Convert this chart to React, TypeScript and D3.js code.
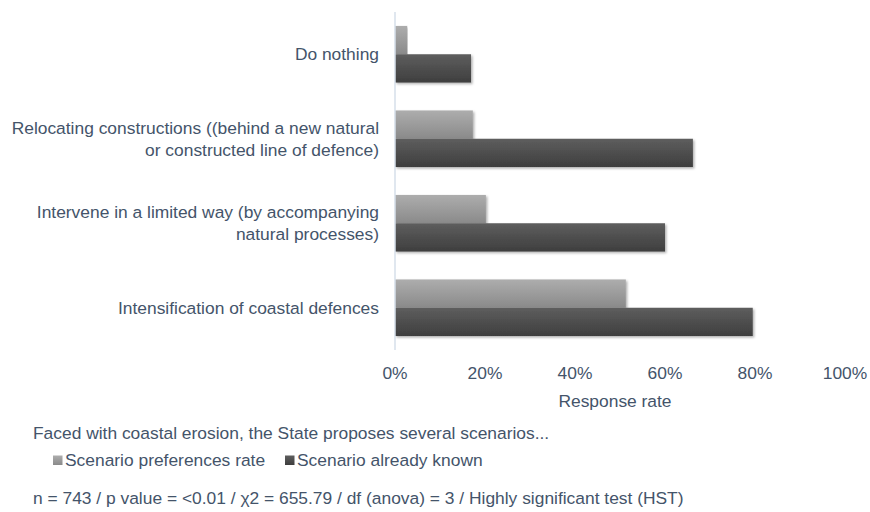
import React from "react";
import * as d3 from "d3";

const categories = [
  ["Do nothing"],
  ["Relocating constructions ((behind a new natural", "or constructed line of defence)"],
  ["Intervene in a limited way (by accompanying", "natural processes)"],
  ["Intensification of coastal defences"],
];
const seriesNames = ["Scenario preferences rate", "Scenario already known"];
const preferencesRate = [0.027, 0.173, 0.202, 0.513];
const alreadyKnown = [0.169, 0.662, 0.6, 0.795];
const xTicks = [0, 0.2, 0.4, 0.6, 0.8, 1.0];
const titleText = "Faced with coastal erosion, the State proposes several scenarios...";
const axisTitle = "Response rate";
const footerText = "n = 743 / p value = <0.01 / \u03c72 = 655.79 / df (anova) = 3 / Highly significant test (HST)";

const W = 870;
const H = 512;
const textColor = "#44546A";
const font = "'Liberation Sans', Arial, sans-serif";
const fs = 17.4;

export default function App() {
  const x = d3.scaleLinear().domain([0, 1]).range([395, 845]);
  const y = d3
    .scaleBand<number>()
    .domain(categories.map((_, i) => i))
    .range([12, 350])
    .paddingInner(0.33)
    .paddingOuter(0.165);
  const bw = y.bandwidth() / 2;
  const series = [preferencesRate, alreadyKnown];
  const fills = ["url(#gLight)", "url(#gDark)"];

  return (
    <svg width={W} height={H} style={{ position: "absolute", left: 0, top: 0, background: "#fff" }} fontFamily={font}>
      <defs>
        <linearGradient id="gLight" x1="0" y1="0" x2="0" y2="1">
          <stop offset="0" stopColor="#ADADAD" />
          <stop offset="1" stopColor="#8A8A8A" />
        </linearGradient>
        <linearGradient id="gDark" x1="0" y1="0" x2="0" y2="1">
          <stop offset="0" stopColor="#5E5E5E" />
          <stop offset="1" stopColor="#3E3E3E" />
        </linearGradient>
        <filter id="shadow" x="-5%" y="-20%" width="110%" height="150%">
          <feDropShadow dx="1.5" dy="1.5" stdDeviation="1.2" floodColor="#000" floodOpacity="0.3" />
        </filter>
      </defs>
      <rect width={W} height={H} fill="#fff" />
      {categories.map((_, i) =>
        series.map((s, k) => (
          <rect
            key={`${i}-${k}`}
            x={x(0)}
            y={(y(i) as number) + k * bw}
            width={x(s[i]) - x(0)}
            height={bw}
            fill={fills[k]}
            filter="url(#shadow)"
          />
        ))
      )}
      <line x1={x(0)} x2={x(0)} y1={12} y2={350} stroke="#D6DFEA" strokeWidth={1.5} />
      {categories.map((lines, i) => {
        const cy = (y(i) as number) + y.bandwidth() / 2;
        const lh = 22;
        const start = cy - ((lines.length - 1) * lh) / 2;
        return (
          <text key={i} textAnchor="end" fontSize={fs} fill={textColor}>
            {lines.map((l, j) => (
              <tspan key={j} x={379} y={start + j * lh} dy="0.35em">
                {l}
              </tspan>
            ))}
          </text>
        );
      })}
      {xTicks.map((t) => (
        <text key={t} x={x(t)} y={373} textAnchor="middle" dy="0.35em" fontSize={fs} fill={textColor}>
          {d3.format(".0%")(t)}
        </text>
      ))}
      <text x={615} y={401} textAnchor="middle" dy="0.35em" fontSize={fs} fill={textColor}>
        {axisTitle}
      </text>
      <text x={33} y={433} dy="0.35em" fontSize={fs} fill={textColor}>
        {titleText}
      </text>
      {seriesNames.map((n, k) => {
        const lx = k === 0 ? 53 : 285;
        return (
          <g key={n}>
            <rect x={lx} y={455.5} width={9.5} height={9.5} fill={fills[k]} />
            <text x={lx + 12} y={460} dy="0.35em" fontSize={fs} fill={textColor}>
              {n}
            </text>
          </g>
        );
      })}
      <text x={33} y={498} dy="0.35em" fontSize={fs} fill={textColor}>
        {footerText}
      </text>
    </svg>
  );
}
